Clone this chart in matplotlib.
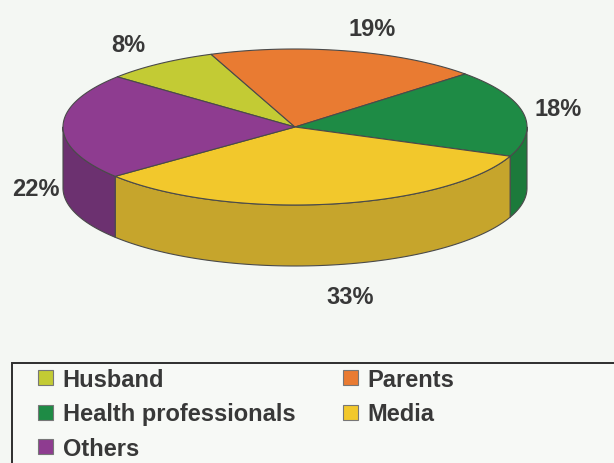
import numpy as np
import matplotlib
matplotlib.use("Agg")
import matplotlib.pyplot as plt
from matplotlib.patches import Polygon, Rectangle, Patch

# Sources of information (percent)
categories = ["Husband", "Parents", "Health professionals", "Media", "Others"]
values = [8, 19, 18, 33, 22]

top_colors = ["#C3CB34", "#E97B32", "#1E8B45", "#F2C82C", "#8E3C90"]
side_colors = ["#A2A82A", "#C0612A", "#1C7A3B", "#C6A52C", "#6C3170"]

# 3D pie geometry (pixel coordinates)
cx, cy = 295.0, 128.0
rx, ry = 232.0, 78.0
depth = 61.0
start_angle = 140.0          # slices run clockwise from here

# label anchors, in the same order as `categories`
label_pos = [(128, 45), (372, 30), (558, 110), (350, 298), (36, 190)]

BG = "#F4F7F3"
EDGE = "#4a4a4a"
TEXT = "#383838"

fig = plt.figure(figsize=(6.14, 4.64), dpi=100, facecolor=BG)
ax = fig.add_axes([0, 0, 1, 1])
ax.set_xlim(0, 614)
ax.set_ylim(464, 0)
ax.axis("off")
ax.set_facecolor(BG)


def rim(t_deg, dy=0.0):
    t = np.radians(t_deg)
    return cx + rx * np.cos(t), cy - ry * np.sin(t) + dy


# slice angle ranges (clockwise)
spans = []
a = start_angle
for v in values:
    b = a - v * 3.6
    spans.append((b, a))
    a = b

# side walls: only the front half of the rim (angles between -180 and 0)
for (lo, hi), col in zip(spans, side_colors):
    for shift in (-360.0, 0.0, 360.0):
        l = max(lo + shift, -180.0)
        h = min(hi + shift, 0.0)
        if h <= l:
            continue
        t = np.linspace(l, h, 80)
        xs, ys = rim(t)
        xb, yb = rim(t[::-1], depth)
        pts = np.column_stack([np.concatenate([xs, xb]), np.concatenate([ys, yb])])
        ax.add_patch(Polygon(pts, closed=True, facecolor=col, edgecolor=EDGE,
                             linewidth=0.8, joinstyle="round"))

# top faces
for (lo, hi), col in zip(spans, top_colors):
    t = np.linspace(lo, hi, 120)
    xs, ys = rim(t)
    pts = np.column_stack([np.concatenate([[cx], xs]), np.concatenate([[cy], ys])])
    ax.add_patch(Polygon(pts, closed=True, facecolor=col, edgecolor=EDGE,
                         linewidth=0.8, joinstyle="round"))

# percentage labels
for v, (lx, ly) in zip(values, label_pos):
    ax.text(lx, ly, f"{v}%", ha="center", va="center", fontsize=17,
            fontweight="bold", color=TEXT, family="Liberation Sans")

# legend frame
ax.add_patch(Rectangle((12, 364), 640, 140, facecolor="#F7F9F6",
                       edgecolor="#2e2e2e", linewidth=1.4, clip_on=True))

# legend filled row by row: matplotlib fills columns, so reorder
order = [0, 2, 4, 1, 3]
handles = [Patch(facecolor=top_colors[i], edgecolor="#777777", linewidth=0.8) for i in order]
labels = [categories[i] for i in order]
leg = ax.legend(handles, labels, ncol=2, loc="upper left",
                bbox_to_anchor=(38 / 614, 1 - 369 / 464), frameon=False,
                prop={"family": "Liberation Sans", "weight": "bold", "size": 17},
                handlelength=0.65, handleheight=0.6, handletextpad=0.4,
                columnspacing=2.0, labelspacing=0.48, borderpad=0.0,
                borderaxespad=0.0)
for txt in leg.get_texts():
    txt.set_color(TEXT)

fig.savefig("out.png", dpi=100, facecolor=BG)
